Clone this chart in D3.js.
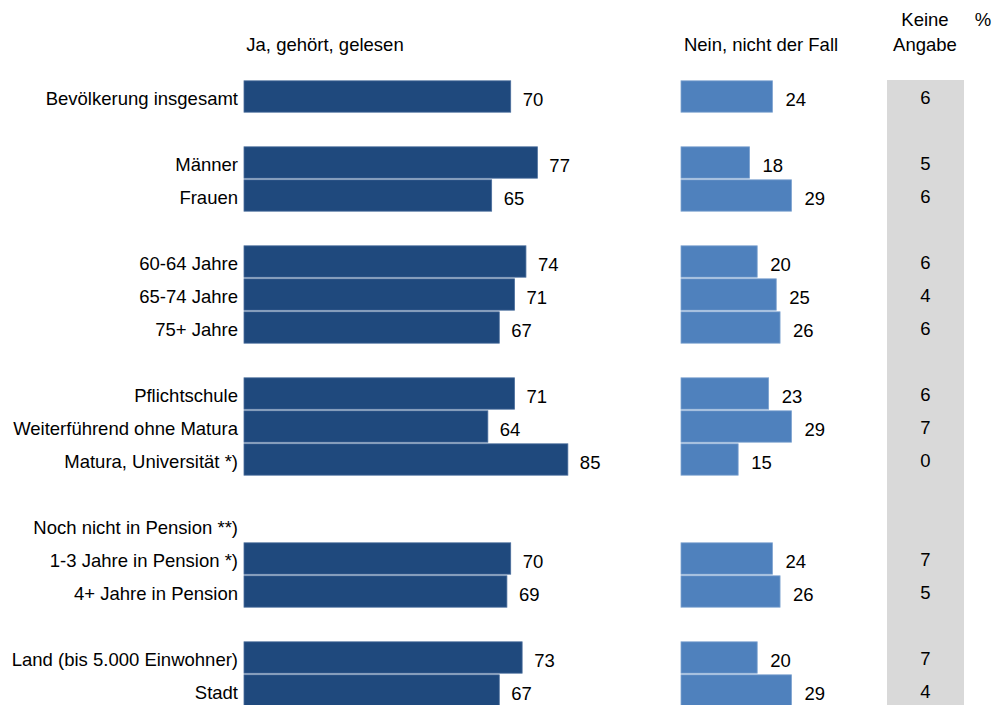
<!DOCTYPE html>
<html>
<head>
<meta charset="utf-8">
<script src="https://cdn.jsdelivr.net/npm/d3@7"></script>
<style>
  body { margin: 0; background: #fff; }
  svg text { font-family: "Liberation Sans", Arial, sans-serif; fill: #000; }
</style>
</head>
<body>
<svg id="chart" width="1006" height="705"></svg>
<script>
// categories, with "" marking the empty spacer rows
const categories = [
  "Bevölkerung insgesamt", "",
  "Männer", "Frauen", "",
  "60-64 Jahre", "65-74 Jahre", "75+ Jahre", "",
  "Pflichtschule", "Weiterführend ohne Matura", "Matura, Universität *)", "",
  "Noch nicht in Pension **)", "1-3 Jahre in Pension *)", "4+ Jahre in Pension", "",
  "Land (bis 5.000 Einwohner)", "Stadt"
];
const jaValues    = [70, null, 77, 65, null, 74, 71, 67, null, 71, 64, 85, null, null, 70, 69, null, 73, 67];
const neinValues  = [24, null, 18, 29, null, 20, 25, 26, null, 23, 29, 15, null, null, 24, 26, null, 20, 29];
const keineValues = [6, null, 5, 6, null, 6, 4, 6, null, 6, 7, 0, null, null, 7, 5, null, 7, 4];

const svg = d3.select("#chart");
const fontSize = 18.5;

const y = d3.scaleBand()
  .domain(d3.range(categories.length))
  .range([80, 80 + categories.length * 33])
  .paddingInner(0.05)
  .paddingOuter(0.025);

const xJa = d3.scaleLinear().domain([0, 100]).range([244, 625]);
const xNein = d3.scaleLinear().domain([0, 100]).range([681, 1062]);
const grayX = 887, grayW = 77;

// grey "Keine Angabe" column
svg.append("rect")
  .attr("x", grayX).attr("y", 80)
  .attr("width", grayW).attr("height", 705 - 80)
  .attr("fill", "#d9d9d9");

// headers
svg.append("text").attr("x", 325).attr("y", 51)
  .attr("text-anchor", "middle").style("font-size", fontSize + "px")
  .text("Ja, gehört, gelesen");
svg.append("text").attr("x", 761).attr("y", 51)
  .attr("text-anchor", "middle").style("font-size", fontSize + "px")
  .text("Nein, nicht der Fall");
svg.append("text").attr("x", 925).attr("y", 26)
  .attr("text-anchor", "middle").style("font-size", fontSize + "px")
  .text("Keine");
svg.append("text").attr("x", 925).attr("y", 51)
  .attr("text-anchor", "middle").style("font-size", fontSize + "px")
  .text("Angabe");
svg.append("text").attr("x", 983).attr("y", 26)
  .attr("text-anchor", "middle").style("font-size", fontSize + "px")
  .text("%");

const rows = categories.map((c, i) => ({
  i: i, label: c, ja: jaValues[i], nein: neinValues[i], keine: keineValues[i]
}));

// category labels
svg.selectAll("text.cat")
  .data(rows.filter(d => d.label !== ""))
  .enter().append("text")
  .attr("class", "cat")
  .attr("x", 238)
  .attr("y", d => y(d.i) + y.bandwidth() / 2 + 8)
  .attr("text-anchor", "end")
  .style("font-size", fontSize + "px")
  .text(d => d.label);

// dark bars
const jaRows = rows.filter(d => d.ja != null);
svg.selectAll("rect.ja")
  .data(jaRows)
  .enter().append("rect")
  .attr("class", "ja")
  .attr("x", xJa(0))
  .attr("y", d => y(d.i))
  .attr("width", d => xJa(d.ja) - xJa(0))
  .attr("height", y.bandwidth())
  .attr("fill", "#1f497d")
  .attr("stroke", "#4a6d9c")
  .attr("stroke-width", 0.8);

svg.selectAll("text.ja")
  .data(jaRows)
  .enter().append("text")
  .attr("class", "ja")
  .attr("x", d => xJa(d.ja) + 12)
  .attr("y", d => y(d.i) + y.bandwidth() / 2 + 9.5)
  .style("font-size", fontSize + "px")
  .text(d => d.ja);

// light bars
const neinRows = rows.filter(d => d.nein != null);
svg.selectAll("rect.nein")
  .data(neinRows)
  .enter().append("rect")
  .attr("class", "nein")
  .attr("x", xNein(0))
  .attr("y", d => y(d.i))
  .attr("width", d => xNein(d.nein) - xNein(0))
  .attr("height", y.bandwidth())
  .attr("fill", "#4f81bd")
  .attr("stroke", "#7ea3d0")
  .attr("stroke-width", 0.8);

svg.selectAll("text.nein")
  .data(neinRows)
  .enter().append("text")
  .attr("class", "nein")
  .attr("x", d => xNein(d.nein) + 13)
  .attr("y", d => y(d.i) + y.bandwidth() / 2 + 9.5)
  .style("font-size", fontSize + "px")
  .text(d => d.nein);

// keine Angabe values
svg.selectAll("text.keine")
  .data(rows.filter(d => d.keine != null))
  .enter().append("text")
  .attr("class", "keine")
  .attr("x", grayX + grayW / 2)
  .attr("y", d => y(d.i) + y.bandwidth() / 2 + 7.5)
  .attr("text-anchor", "middle")
  .style("font-size", fontSize + "px")
  .text(d => d.keine);
</script>
</body>
</html>
